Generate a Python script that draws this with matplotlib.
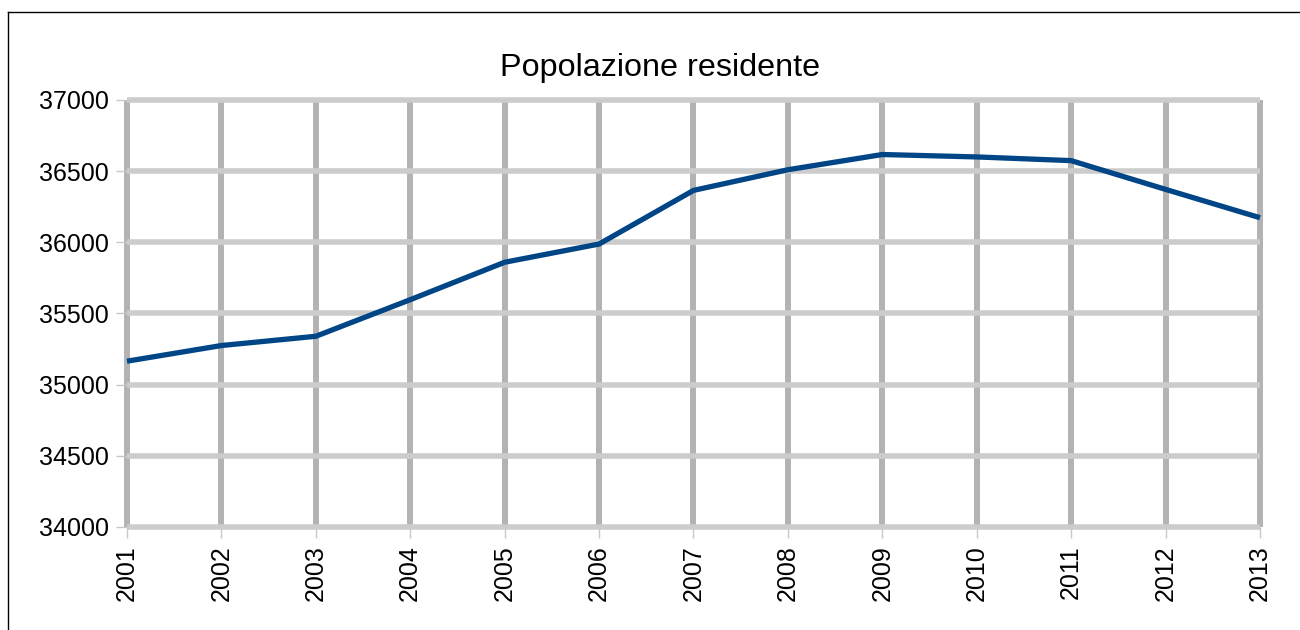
import matplotlib
matplotlib.use('Agg')
import matplotlib.pyplot as plt
from matplotlib.lines import Line2D

plt.rcParams['font.family'] = ['Liberation Sans', 'DejaVu Sans']

years = [2001, 2002, 2003, 2004, 2005, 2006, 2007, 2008, 2009, 2010, 2011, 2012, 2013]
popolazione = [35165, 35275, 35340, 35597, 35860, 35988, 36365, 36510, 36617, 36600, 36574, 36372, 36173]
y_ticks = [34000, 34500, 35000, 35500, 36000, 36500, 37000]
title = 'Popolazione residente'

fig = plt.figure(figsize=(13, 6.3), dpi=100)
ax = fig.add_axes([127 / 1300, 1 - 527 / 630, (1260 - 127) / 1300, (527 - 100) / 630])

# grid drawn by hand so horizontal lines sit over the vertical ones
for y in years:
    ax.axvline(y, color='#b3b3b3', lw=4.3, zorder=1, solid_capstyle='butt', clip_on=False)
for v in y_ticks:
    ax.axhline(v, color='#cccccc', lw=4.0, zorder=2, solid_capstyle='butt', clip_on=False)

ax.plot(years, popolazione, color='#004586', lw=3.8, zorder=3,
        solid_joinstyle='miter', solid_capstyle='butt', clip_on=False)

ax.set_xlim(years[0], years[-1])
ax.set_ylim(y_ticks[0], y_ticks[-1])
ax.set_xticks(years)
ax.set_xticklabels([str(y) for y in years], rotation=90)
ax.set_yticks(y_ticks)
ax.tick_params(axis='both', labelsize=18, length=8, width=1, color='#c8c8c8', pad=5)
for s in ax.spines.values():
    s.set_visible(False)

fig.text(0.508, 1 - 68 / 630, title, ha='center', va='center', fontsize=23.3)

# outer border (only left and top visible)
fig.add_artist(Line2D([8 / 1300, 8 / 1300], [0, 1 - 12 / 630], color='black', lw=1))
fig.add_artist(Line2D([8 / 1300, 1], [1 - 12 / 630, 1 - 12 / 630], color='black', lw=1))

fig.savefig('out.png', dpi=100)
